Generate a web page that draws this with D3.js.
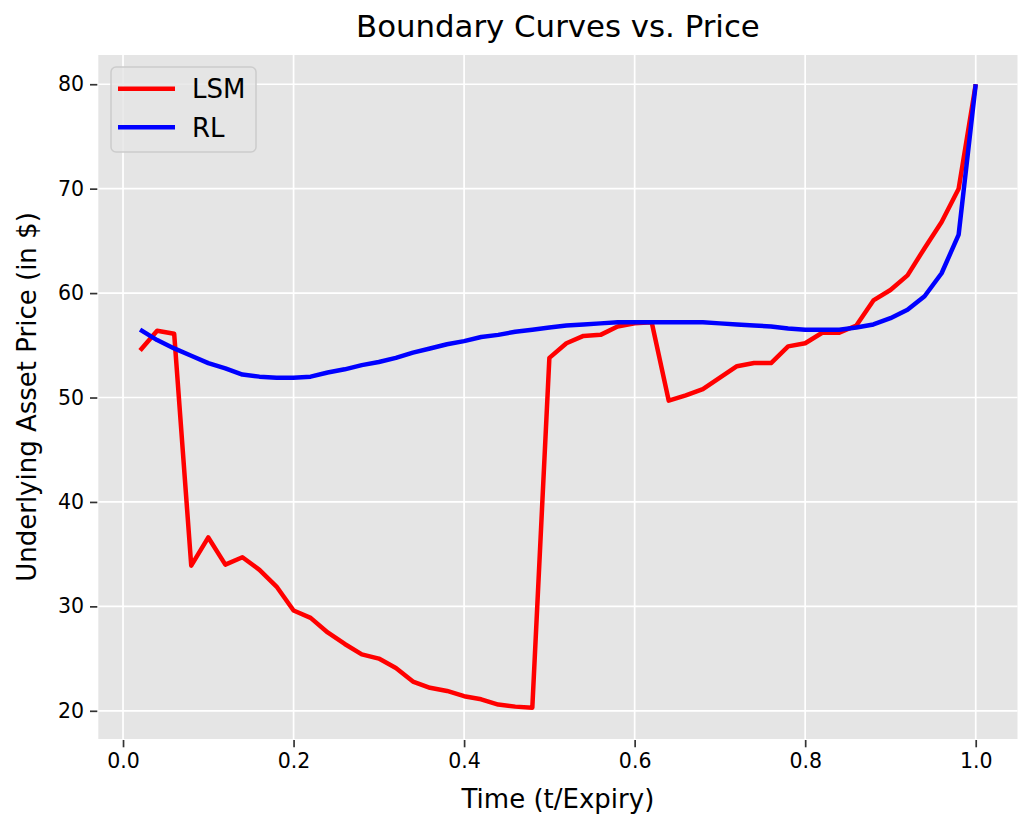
<!DOCTYPE html>
<html>
<head>
<meta charset="utf-8">
<script src="https://cdn.jsdelivr.net/npm/d3@7"></script>
<style>
  body { margin: 0; background: #fff; }
  text { font-family: "DejaVu Sans", sans-serif; }
</style>
</head>
<body>
<script>
// Datos (t/Expiry en pasos de 0.02)
const tiempos = [0.02,0.04,0.06,0.08,0.10,0.12,0.14,0.16,0.18,0.20,
                 0.22,0.24,0.26,0.28,0.30,0.32,0.34,0.36,0.38,0.40,
                 0.42,0.44,0.46,0.48,0.50,0.52,0.54,0.56,0.58,0.60,
                 0.62,0.64,0.66,0.68,0.70,0.72,0.74,0.76,0.78,0.80,
                 0.82,0.84,0.86,0.88,0.90,0.92,0.94,0.96,0.98,1.00]

const lsm = [54.5,56.4,56.1,33.9,36.6,34.0,34.7,33.5,31.9,29.6,
             28.9,27.5,26.4,25.4,25.0,24.1,22.8,22.2,21.9,21.4,
             21.1,20.6,20.4,20.3,53.8,55.2,55.9,56.0,56.8,57.1,
             57.2,49.7,50.2,50.8,51.9,53.0,53.3,53.3,54.9,55.2,
             56.2,56.2,56.9,59.3,60.3,61.7,64.3,66.8,70.0,80.0]

const rl = [56.5,55.5,54.7,54.0,53.3,52.8,52.2,52.0,51.9,51.9,
            52.0,52.4,52.7,53.1,53.4,53.8,54.3,54.7,55.1,55.4,
            55.8,56.0,56.3,56.5,56.7,56.9,57.0,57.1,57.2,57.2,
            57.2,57.2,57.2,57.2,57.1,57.0,56.9,56.8,56.6,56.5,
            56.5,56.5,56.7,57.0,57.6,58.4,59.7,61.9,65.6,80.0]

const series = [
    {nombre: "LSM", valores: lsm, color: "red"},
    {nombre: "RL", valores: rl, color: "blue"}
]

const xTicks = [0.0, 0.2, 0.4, 0.6, 0.8, 1.0]
const yTicks = [20, 30, 40, 50, 60, 70, 80]

// Tamaño general
const width = 1018, height = 817
const margin = {top: 55, right: 0.5, bottom: 78, left: 98.3}

let svg = d3.select("body")
        .append("svg")
        .attr("width", width)
        .attr("height", height)

// Escalas (margen del 5% como matplotlib)
let x = d3.scaleLinear()
        .domain([0.02 - 0.049, 1.0 + 0.049])
        .range([margin.left, width - margin.right])

let y = d3.scaleLinear()
        .domain([17.3, 82.8])
        .range([height - margin.bottom, margin.top])

// Fondo gris estilo ggplot
svg.append("rect")
        .attr("x", margin.left)
        .attr("y", margin.top)
        .attr("width", width - margin.right - margin.left)
        .attr("height", height - margin.bottom - margin.top)
        .attr("fill", "#e5e5e5")

// Rejilla
svg.append("g")
        .selectAll("line")
        .data(xTicks)
        .join("line")
        .attr("x1", d => x(d)).attr("x2", d => x(d))
        .attr("y1", margin.top).attr("y2", height - margin.bottom)
        .attr("stroke", "white")
        .attr("stroke-width", 1.7)

svg.append("g")
        .selectAll("line")
        .data(yTicks)
        .join("line")
        .attr("y1", d => y(d)).attr("y2", d => y(d))
        .attr("x1", margin.left).attr("x2", width - margin.right)
        .attr("stroke", "white")
        .attr("stroke-width", 1.7)

// Ejes
let ejeX = svg.append("g")
        .attr("transform", "translate(0," + (height - margin.bottom + 1) + ")")
        .call(d3.axisBottom(x).tickValues(xTicks).tickFormat(d3.format(".1f"))
              .tickSize(7.3).tickPadding(6))
ejeX.select(".domain").remove()

let ejeY = svg.append("g")
        .attr("transform", "translate(" + (margin.left - 1) + ",0)")
        .call(d3.axisLeft(y).tickValues(yTicks).tickSize(7.3).tickPadding(6))
ejeY.select(".domain").remove()

svg.selectAll(".tick line").attr("stroke", "#333").attr("stroke-width", 1.7)
svg.selectAll(".tick text")
        .attr("fill", "#000")
        .style("font-size", "20.5px")
        .style("font-family", "DejaVu Sans")

// Lineas
let linea = d3.line()
        .x((d, i) => x(tiempos[i]))
        .y(d => y(d))

svg.append("g")
        .selectAll("path")
        .data(series)
        .join("path")
        .attr("d", d => linea(d.valores))
        .attr("fill", "none")
        .attr("stroke", d => d.color)
        .attr("stroke-width", 4.5)
        .attr("stroke-linejoin", "round")

// Titulo y etiquetas
const cx = (margin.left + width - margin.right) / 2

svg.append("text")
        .attr("x", cx).attr("y", 37)
        .attr("text-anchor", "middle")
        .style("font-size", "30.8px")
        .text("Boundary Curves vs. Price")

svg.append("text")
        .attr("x", cx).attr("y", 808)
        .attr("text-anchor", "middle")
        .style("font-size", "26px")
        .text("Time (t/Expiry)")

svg.append("text")
        .attr("transform", "translate(36," + ((margin.top + height - margin.bottom) / 2) + ") rotate(-90)")
        .attr("text-anchor", "middle")
        .style("font-size", "26px")
        .text("Underlying Asset Price (in $)")

// Leyenda
let leyenda = svg.append("g")

leyenda.append("rect")
        .attr("x", 111).attr("y", 67)
        .attr("width", 145).attr("height", 85)
        .attr("rx", 5)
        .attr("fill", "#e5e5e5")
        .attr("fill-opacity", 0.8)
        .attr("stroke", "#cccccc")
        .attr("stroke-width", 1.5)

let items = leyenda.selectAll("g")
        .data(series)
        .join("g")
        .attr("transform", (d, i) => "translate(0," + (88.7 + i * 38.5) + ")")

items.append("line")
        .attr("x1", 118).attr("x2", 175)
        .attr("stroke", d => d.color)
        .attr("stroke-width", 4.5)

items.append("text")
        .attr("x", 192)
        .attr("dy", "0.36em")
        .style("font-size", "26px")
        .text(d => d.nombre)
</script>
</body>
</html>
